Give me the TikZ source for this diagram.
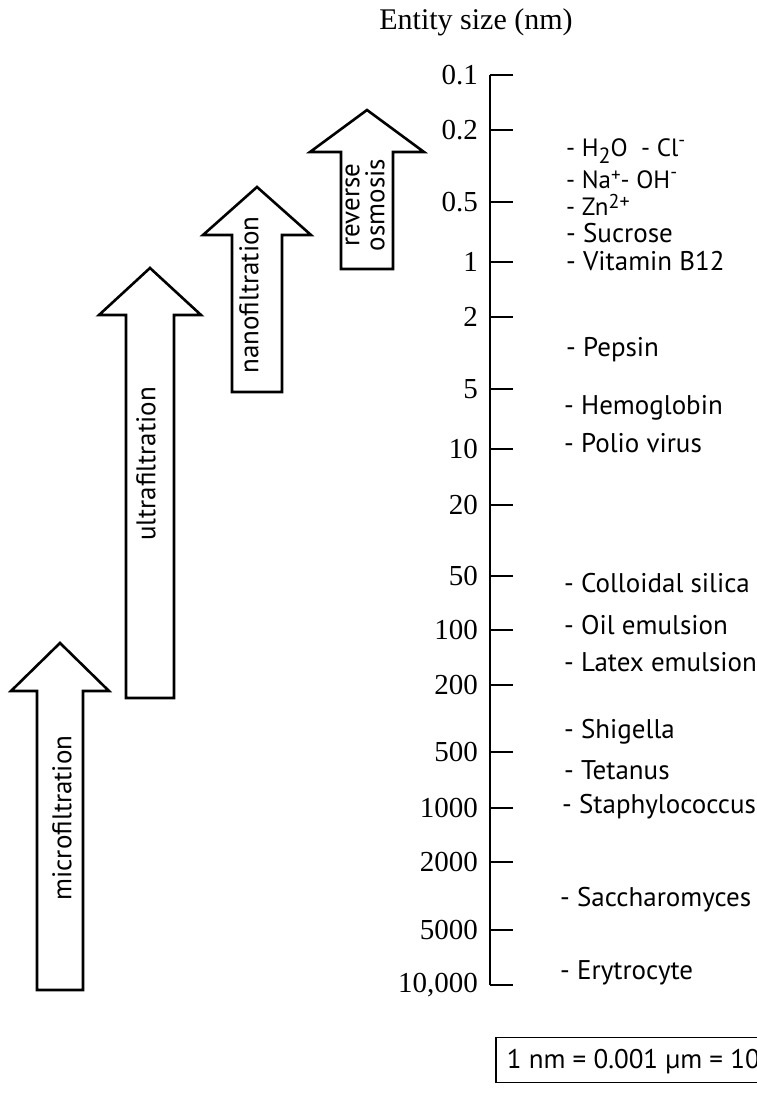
\documentclass[tikz,border=0pt]{standalone}
\usepackage{fontspec}
\setmainfont{Liberation Serif}
\newfontfamily\labelfont{PT Sans}

\begin{document}
\begin{tikzpicture}[
    x=1pt,y=-1pt,
    filterarrow/.style={draw=black,line width=2.6pt,line join=miter,fill=white},
    filtertext/.style={rotate=90,font=\labelfont\fontsize{27}{25}\selectfont,align=center,inner sep=0pt},
    scalenum/.style={anchor=east,font=\fontsize{29}{29}\selectfont,inner sep=0pt},
    entity/.style={anchor=west,font=\labelfont\fontsize{27}{27}\selectfont,inner sep=0pt},
    ion/.style={anchor=west,font=\labelfont\fontsize{25}{25}\selectfont,inner sep=0pt},
    scaletick/.style={line width=2.2pt}
]
\useasboundingbox (0,0) rectangle (757,1108);
\clip (0,0) rectangle (757,1108);

\node[font=\fontsize{30}{30}\selectfont] (title) at (476,22) {Entity size (nm)};

% size scale
\coordinate (top) at (490,75);
\coordinate (bottom) at (490,985);
\draw[line width=2.8pt] (top) -- (bottom);
\foreach \y/\lab [count=\i] in {75/0.1,130/0.2,202/0.5,262/1,317/2,389/5,449/10,505/20,
    576/50,630/100,685/200,752/500,808/1000,862/2000,930/5000,985/{10,000}} {
  \draw[scaletick] (490,\y) -- (513,\y);
  \node[scalenum] (num\i) at (478,\y) {\lab};
}

% membrane processes
\foreach \cx/\hw/\sw/\tip/\neck/\base in {60/49/23/643/691/990,150/51/24/268/315/698,
    257/54/25/187/235/392,367/57/26/110/152/269}
  \draw[filterarrow] (\cx-\sw,\base) -- (\cx-\sw,\neck) -- (\cx-\hw,\neck) -- (\cx,\tip)
    -- (\cx+\hw,\neck) -- (\cx+\sw,\neck) -- (\cx+\sw,\base) -- cycle;
\node[filtertext] (micro) at (62,818) {microfiltration};
\node[filtertext] (ultra) at (146,464) {ultrafiltration};
\node[filtertext] (nano) at (249,295) {nanofiltration};
\node[filtertext] (osmo) at (365,205) {reverse\\osmosis};

% entities
\node[ion] (water) at (566,151) {- H\raisebox{-0.6ex}{\fontsize{22}{22}\selectfont 2}O\ \ - Cl\raisebox{0.8ex}{\fontsize{19}{19}\selectfont -}};
\node[ion] (sodium) at (566,180) {- Na\raisebox{0.6ex}{\fontsize{19}{19}\selectfont +}- OH\raisebox{0.8ex}{\fontsize{19}{19}\selectfont -}};
\node[ion] (zinc) at (566,205) {- Zn\raisebox{0.6ex}{\fontsize{20}{20}\selectfont 2+}};
\node[entity] (sucrose) at (566,233) {- Sucrose};
\node[entity] (vitamin) at (566,261) {- Vitamin B12};
\node[entity] (pepsin) at (566,350) {- Pepsin};
\node[entity] (hemoglobin) at (564,408) {- Hemoglobin};
\node[entity] (polio) at (564,443) {- Polio virus};
\node[entity] (silica) at (564,583) {- Colloidal silica};
\node[entity] (oil) at (564,625) {- Oil emulsion};
\node[entity] (latex) at (564,662) {- Latex emulsion};
\node[entity] (shigella) at (564,732) {- Shigella};
\node[entity] (tetanus) at (564,770) {- Tetanus};
\node[entity] (staph) at (562,807) {- Staphylococcus};
\node[entity] (sacch) at (560,900) {- Saccharomyces};
\node[entity] (erytro) at (560,973) {- Erytrocyte};

\node[draw,line width=1.8pt,anchor=west,minimum height=45,inner xsep=11,
      font=\labelfont\fontsize{27}{27}\selectfont] (units) at (495,1060) {1 nm = 0.001 µm = 10 Å};
\end{tikzpicture}
\end{document}
